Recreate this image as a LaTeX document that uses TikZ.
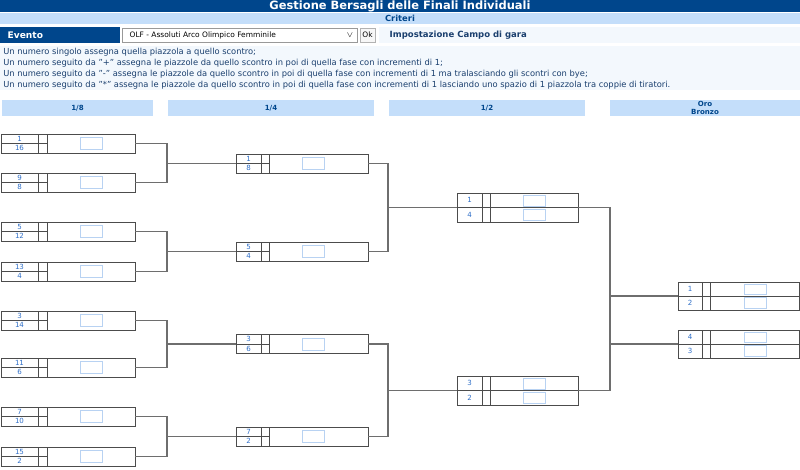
\documentclass[tikz,border=0pt]{standalone}
\usepackage{fontspec}
\setmainfont{DejaVu Sans}
\definecolor{navy}{HTML}{00468C}
\definecolor{pale}{HTML}{C4DEFA}
\definecolor{paper}{HTML}{F3F8FD}
\definecolor{ink}{HTML}{1A3F6E}
\definecolor{numblue}{HTML}{2F6FC8}
\definecolor{slot}{HTML}{B8D2F2}
\definecolor{wire}{HTML}{6E6E6E}
\tikzset{
  boxline/.style={draw=black!70, line width=0.6pt},
  slotbox/.style={draw=slot, line width=0.7pt},
  link/.style={draw=wire, line width=0.8pt},
  num/.style={font=\fontsize{5.3}{6}\selectfont, text=numblue, inner sep=0pt},
  phase/.style={fill=pale, font=\bfseries\fontsize{5.3}{6.2}\selectfont, text=navy, align=center, inner sep=0pt},
}
% round geometry: left, right, height, column 1, column 2, slot left, split slot
\newcommand{\setround}[7]{\def\bl{#1}\def\br{#2}\def\bh{#3}\def\cA{#4}\def\cB{#5}\def\sL{#6}\def\sp{#7}}
% \matchbox{name}{top}{top no}{bottom no}
\newcommand{\matchbox}[4]{%
  \pgfmathsetmacro{\mid}{#2+\bh/2}
  \draw[boxline] (\bl,#2) rectangle (\br,#2+\bh);
  \draw[boxline] (\cA,#2) -- (\cA,#2+\bh) (\cB,#2) -- (\cB,#2+\bh);
  \draw[boxline] (\bl,\mid) -- (\cB,\mid);
  \ifnum\sp=1
    \draw[boxline] (\cB,\mid) -- (\br,\mid);
    \draw[slotbox] (\sL,#2+2) rectangle (\sL+22,\mid-1.5);
    \draw[slotbox] (\sL,\mid+1.5) rectangle (\sL+22,#2+\bh-2);
  \else
    \draw[slotbox] (\sL,#2+3.5) rectangle (\sL+22,#2+\bh-3.5);
  \fi
  \node[num] (#1-a) at ({(\bl+\cA)/2},{(#2+\mid)/2}) {#3};
  \node[num] (#1-b) at ({(\bl+\cA)/2},{(\mid+#2+\bh)/2}) {#4};
  \coordinate (#1-l) at (\bl,\mid);
  \coordinate (#1) at (\br,\mid);
}
\begin{document}
\begin{tikzpicture}[x=0.75pt, y=-0.75pt]
  \useasboundingbox[fill=white] (0,0) rectangle (800,469);

  % header
  \fill[navy] (0,0) rectangle (800,12);
  \node[text=white, font=\bfseries\fontsize{8.6}{10}\selectfont] (title) at (400,6) {Gestione Bersagli delle Finali Individuali};
  \fill[pale] (0,12.5) rectangle (800,24);
  \node[text=navy, font=\bfseries\fontsize{6.3}{7}\selectfont] (crit) at (400,18.3) {Criteri};
  \fill[navy] (0,27) rectangle (120,43);
  \node[anchor=west, text=white, font=\bfseries\fontsize{6.8}{8}\selectfont] (evt) at (3,35) {Evento};
  \draw[black!40, fill=white] (122,28) rectangle (357,42);
  \node[anchor=west, font=\fontsize{5.6}{7}\selectfont] (sel) at (125,35) {OLF - Assoluti Arco Olimpico Femminile};
  \node[font=\fontsize{6}{7}\selectfont] (arrow) at (350,35) {$\vee$};
  \draw[black!30, fill=black!3] (360,28) rectangle (375,42);
  \node[font=\fontsize{5.6}{7}\selectfont] (ok) at (367.5,35) {Ok};
  \fill[paper] (379,27) rectangle (800,43);
  \node[anchor=west, text=ink, font=\bfseries\fontsize{6.4}{8}\selectfont] (camp) at (385,35) {Impostazione Campo di gara};
  \fill[paper] (0,46) rectangle (800,90);
  \node[anchor=north west, text=ink, align=left, inner sep=0pt,
        font=\fontsize{6.25}{8.1}\selectfont] (help) at (3,48) {%
    Un numero singolo assegna quella piazzola a quello scontro;\\
    Un numero seguito da "+" assegna le piazzole da quello scontro in poi di quella fase con incrementi di 1;\\
    Un numero seguito da "-" assegna le piazzole da quello scontro in poi di quella fase con incrementi di 1 ma tralasciando gli scontri con bye;\\
    Un numero seguito da "*" assegna le piazzole da quello scontro in poi di quella fase con incrementi di 1 lasciando uno spazio di 1 piazzola tra coppie di tiratori.};

  % phases
  \node[phase, minimum width=113.25pt, minimum height=12pt] (p8) at (77.5,108) {1/8};
  \node[phase, minimum width=154.5pt, minimum height=12pt] (p4) at (271,108) {1/4};
  \node[phase, minimum width=147pt, minimum height=12pt] (p2) at (487,108) {1/2};
  \node[phase, minimum width=142.5pt, minimum height=12pt] (pf) at (705,108) {Oro\\Bronzo};

  % 1/8
  \setround{1}{135}{19}{38}{47}{80}{0}
  \matchbox{e1}{134}{1}{16}
  \matchbox{e2}{173}{9}{8}
  \matchbox{e3}{222}{5}{12}
  \matchbox{e4}{262}{13}{4}
  \matchbox{e5}{311}{3}{14}
  \matchbox{e6}{358}{11}{6}
  \matchbox{e7}{407}{7}{10}
  \matchbox{e8}{447}{15}{2}

  % 1/4
  \setround{236}{368}{19}{261}{269}{302}{0}
  \matchbox{q1}{154}{1}{8}
  \matchbox{q2}{242}{5}{4}
  \matchbox{q3}{334.5}{3}{6}
  \matchbox{q4}{427}{7}{2}

  % 1/2
  \setround{457}{578}{29}{482}{490}{523}{1}
  \matchbox{s1}{193}{1}{4}
  \matchbox{s2}{376}{3}{2}

  % finals
  \setround{678}{799}{28}{702}{710}{744}{1}
  \matchbox{f1}{282}{1}{2}
  \matchbox{f2}{330}{4}{3}

  \draw[link] (e1) -- ++(32,0) |- (q1-l);
  \draw[link] (e2) -- ++(32,0) |- (q1-l);
  \draw[link] (e3) -- ++(32,0) |- (q2-l);
  \draw[link] (e4) -- ++(32,0) |- (q2-l);
  \draw[link] (e5) -- ++(32,0) |- (q3-l);
  \draw[link] (e6) -- ++(32,0) |- (q3-l);
  \draw[link] (e7) -- ++(32,0) |- (q4-l);
  \draw[link] (e8) -- ++(32,0) |- (q4-l);
  \draw[link] (q1) -- ++(20,0) |- (s1-l);
  \draw[link] (q2) -- ++(20,0) |- (s1-l);
  \draw[link] (q3) -- ++(20,0) |- (s2-l);
  \draw[link] (q4) -- ++(20,0) |- (s2-l);
  \draw[link] (s1) -- ++(32,0) coordinate (fork) |- (s2);
  \draw[link] (fork |- f1-l) -- (f1-l);
  \draw[link] (fork |- f2-l) -- (f2-l);
\end{tikzpicture}
\end{document}
